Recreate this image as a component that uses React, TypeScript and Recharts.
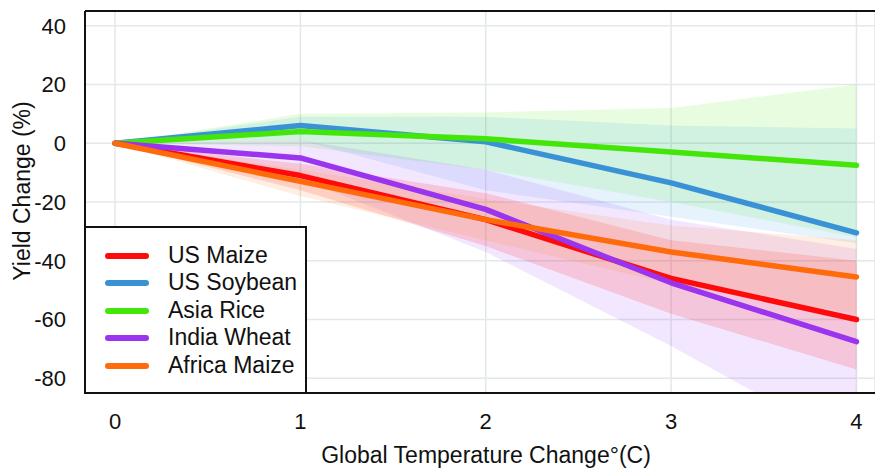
import React from 'react';
import { ComposedChart, Line, Area, XAxis, YAxis, CartesianGrid, ReferenceLine } from 'recharts';

const temps = [0, 1, 2, 3, 4];
const xTicks = [0, 1, 2, 3, 4];
const yTicks = [-80, -60, -40, -20, 0, 20, 40];

const usMaize = [0, -11, -26, -46, -60];
const usSoybean = [0, 6, 0.5, -13.5, -30.5];
const asiaRice = [0, 4, 1.5, -3, -7.5];
const indiaWheat = [0, -5, -22.5, -47.5, -67.5];
const africaMaize = [0, -13, -26, -37, -45.5];

const usMaizeLow = [0, -16, -35, -58, -77];
const usMaizeHigh = [0, -7, -17, -33, -40];
const usSoybeanLow = [0, 1, -16, -25, -34];
const usSoybeanHigh = [0, 9, 9, 6, 5];
const asiaRiceLow = [0, -1, -9, -20, -32];
const asiaRiceHigh = [0, 10, 10.5, 12, 20];
const indiaWheatLow = [0, -12, -37, -69, -104];
const indiaWheatHigh = [0, 1, -9, -26, -36];
const africaMaizeLow = [0, -18, -33, -48, -58];
const africaMaizeHigh = [0, -9, -19, -28, -33];

const seriesNames = ['US Maize', 'US Soybean', 'Asia Rice', 'India Wheat', 'Africa Maize'];
const seriesKeys = ['usMaize', 'usSoybean', 'asiaRice', 'indiaWheat', 'africaMaize'];
const lineColors = ['#ff0a0a', '#3a92d6', '#44e60a', '#9a34ee', '#ff6a0a'];
const bandColors = ['#ff2020', '#3399ee', '#44ee00', '#9933ff', '#ff7a10'];
const bandOpacity = [0.16, 0.12, 0.12, 0.12, 0.12];

const values = [usMaize, usSoybean, asiaRice, indiaWheat, africaMaize];
const lows = [usMaizeLow, usSoybeanLow, asiaRiceLow, indiaWheatLow, africaMaizeLow];
const highs = [usMaizeHigh, usSoybeanHigh, asiaRiceHigh, indiaWheatHigh, africaMaizeHigh];

const data = temps.map((t, i) => {
  const row: any = { t };
  seriesKeys.forEach((k, s) => {
    row[k] = values[s][i];
    row[k + 'Band'] = [lows[s][i], highs[s][i]];
  });
  return row;
});

const FONT = '"Liberation Sans", Arial, Helvetica, sans-serif';
const bandOrder = [2, 1, 3, 0, 4];

export default function App() {
  return (
    <div style={{ position: 'absolute', left: 0, top: 0, width: 875, height: 472, background: '#fff', fontFamily: FONT }}>
      <ComposedChart width={875} height={472} data={data} margin={{ top: 11, right: 0, bottom: 0, left: 0 }}>
        <CartesianGrid stroke="#e3e8e8" strokeWidth={1.5} />
        <XAxis
          type="number"
          dataKey="t"
          domain={[-0.162, 4.1]}
          allowDataOverflow
          ticks={xTicks}
          height={79}
          tickLine={false}
          tickSize={0}
          tickMargin={20}
          axisLine={{ stroke: '#111', strokeWidth: 2 }}
          tick={{ fill: '#111', fontSize: 22, fontFamily: FONT }}
          label={{
            content: () => (
              <text x={486} y={463} textAnchor="middle" fill="#111" fontSize={23} fontFamily={FONT}>
                Global Temperature Change°(C)
              </text>
            ),
          }}
        />
        <YAxis
          type="number"
          domain={[-85, 45]}
          allowDataOverflow
          ticks={yTicks}
          width={85}
          tickLine={false}
          tickSize={0}
          tickMargin={19}
          axisLine={{ stroke: '#111', strokeWidth: 2 }}
          tick={{ fill: '#111', fontSize: 22, fontFamily: FONT }}
          label={{
            content: () => (
              <text
                x={22}
                y={191}
                transform="rotate(-90 22 191)"
                textAnchor="middle"
                dominantBaseline="central"
                fill="#111"
                fontSize={23}
                fontFamily={FONT}
              >
                Yield Change (%)
              </text>
            ),
          }}
        />
        <ReferenceLine y={45} stroke="#111" strokeWidth={2} />
        {bandOrder.map((s) => (
          <Area
            key={seriesKeys[s] + 'Band'}
            type="linear"
            dataKey={seriesKeys[s] + 'Band'}
            stroke="none"
            fill={bandColors[s]}
            fillOpacity={bandOpacity[s]}
            isAnimationActive={false}
            activeDot={false}
          />
        ))}
        {seriesKeys.map((k, s) => (
          <Line
            key={k}
            type="linear"
            dataKey={k}
            stroke={lineColors[s]}
            strokeWidth={5.5}
            strokeLinecap="round"
            strokeLinejoin="round"
            dot={false}
            activeDot={false}
            isAnimationActive={false}
          />
        ))}
      </ComposedChart>
      <div
        style={{
          position: 'absolute',
          left: 84,
          top: 226,
          width: 219,
          height: 164,
          border: '2px solid #111',
          background: '#fff',
        }}
      >
        {seriesNames.map((name, s) => (
          <div key={name} style={{ position: 'absolute', left: 0, top: 14 + s * 27.4, height: 27, width: 219 }}>
            <div
              style={{
                position: 'absolute',
                left: 19,
                top: 11,
                width: 44,
                height: 6,
                borderRadius: 3,
                background: lineColors[s],
              }}
            />
            <div
              style={{
                position: 'absolute',
                left: 82,
                top: 0,
                lineHeight: '27px',
                fontSize: 23,
                color: '#111',
                whiteSpace: 'nowrap',
                fontFamily: FONT,
              }}
            >
              {name}
            </div>
          </div>
        ))}
      </div>
    </div>
  );
}
